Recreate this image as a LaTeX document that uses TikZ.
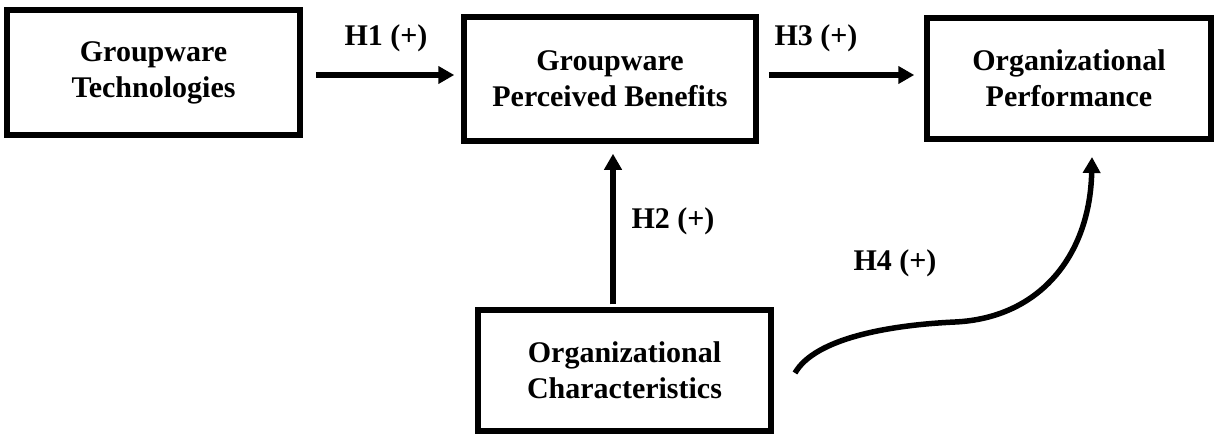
\documentclass[tikz,border=0pt]{standalone}
\usepackage{fontspec}
\setmainfont{Liberation Serif}
\usetikzlibrary{arrows.meta}
\tikzset{
  box/.style={draw, line width=5.5pt, align=center, inner sep=0pt,
    font=\bfseries\fontsize{30}{36}\selectfont},
  lbl/.style={anchor=base, inner sep=0pt, font=\bfseries\fontsize{30}{35}\selectfont},
  arr/.style={line width=5.5pt, -{Triangle[length=16pt,width=17pt]}}
}
\begin{document}
\begin{tikzpicture}[x=1pt,y=-1pt]
\useasboundingbox (0,0) rectangle (1215,434);
\node[box, minimum width=293pt, minimum height=125pt] (b1) at (153.5,72.5) {Groupware\\Technologies};
\node[box, minimum width=292pt, minimum height=124pt] (b2) at (610,79) {Groupware\\Perceived Benefits};
\node[box, minimum width=284pt, minimum height=121pt] (b3) at (1069,78.5) {Organizational\\Performance};
\node[box, minimum width=293pt, minimum height=121pt] (b4) at (624.5,370.5) {Organizational\\Characteristics};
\node[lbl] (l1) at (386,45) {H1 (+)};
\node[lbl] (l3) at (816,45) {H3 (+)};
\node[lbl] (l2) at (673,228) {H2 (+)};
\node[lbl] (l4) at (895,270) {H4 (+)};
\coordinate (x2) at (613,0);
\coordinate (h1y) at (0,75);
\coordinate (h4s) at (795,373);
\coordinate (h4e) at (1092,157);
\draw[arr] ([xshift=13pt]b1.east |- h1y) -- ([xshift=-7pt]b2.west |- h1y);
\draw[arr] ([xshift=10pt]b2.east |- h1y) -- ([xshift=-10pt]b3.west |- h1y);
\draw[arr] ([yshift=3pt]b4.north -| x2) -- ([yshift=-10pt]b2.south -| x2);
\draw[arr] (h4s) .. controls (815,338) and (890,325) .. (955,322)
  .. controls (1040,318) and (1090,255) .. (h4e);
\end{tikzpicture}
\end{document}
